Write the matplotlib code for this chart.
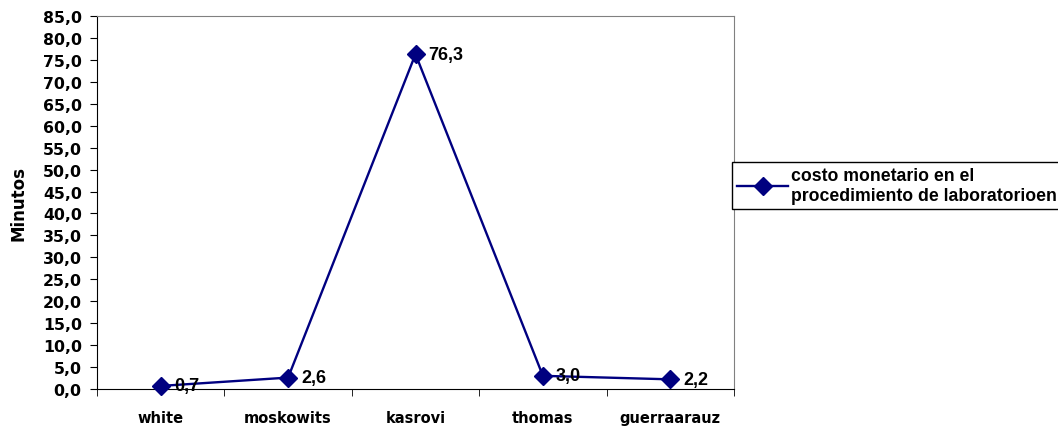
import numpy as np
import matplotlib.pyplot as plt
from matplotlib.ticker import FixedLocator

plt.rcParams['font.family'] = ['DejaVu Sans']

# data
categorias = ['white', 'moskowits', 'kasrovi', 'thomas', 'guerraarauz']
minutos = [0.7, 2.6, 76.3, 3.0, 2.2]
etiqueta = 'costo monetario en el\nprocedimiento de laboratorioen minutos'

fig = plt.figure(figsize=(10.58, 4.27), dpi=100)
ax = fig.add_axes([97/1058, 1-390/427, (734-97)/1058, (390-17)/427])

x = np.arange(len(categorias))
ax.plot(x, minutos, color='#000080', linewidth=1.7, marker='D', markersize=9,
        label=etiqueta, clip_on=False, zorder=3)

for xi, v in zip(x, minutos):
    ax.annotate('{0:.1f}'.format(v).replace('.', ','), (xi, v),
                xytext=(9.5, 0), textcoords='offset points',
                va='center', ha='left', fontsize=13, fontweight='bold',
                family=['Liberation Sans', 'DejaVu Sans'], zorder=4)

ax.set_xlim(-0.5, len(categorias) - 0.5)
ax.set_ylim(0, 85)
ax.set_yticks(np.arange(0, 86, 5))
ax.set_yticklabels(['{0:.1f}'.format(t).replace('.', ',') for t in np.arange(0, 86, 5)],
                   fontsize=11.3, fontweight='bold')
ax.set_xticks(x)
ax.set_xticklabels(categorias, fontsize=10.5, fontweight='bold')
ax.tick_params(axis='x', which='major', length=0, pad=15)
ax.xaxis.set_minor_locator(FixedLocator(np.arange(-0.5, len(categorias), 1.0)))
ax.tick_params(axis='x', which='minor', length=5, direction='out', color='black')
ax.tick_params(axis='y', length=5, direction='out', pad=6)

ax.spines['left'].set_color('black')
ax.spines['bottom'].set_color('black')
ax.spines['top'].set_color('#808080')
ax.spines['right'].set_color('#808080')

ax.set_ylabel('Minutos', fontsize=12, fontweight='bold', labelpad=11)

leg = fig.legend(loc='upper left', bbox_to_anchor=(732/1058, 1-163/427),
                 fancybox=False, edgecolor='black', framealpha=1,
                 prop={'size': 12.7, 'weight': 'bold', 'family': 'Liberation Sans'},
                 handlelength=2.9, borderaxespad=0, borderpad=0.3,
                 handletextpad=0.15, labelspacing=0.2)
leg.get_frame().set_linewidth(1)

fig.savefig('out.png', dpi=100)
